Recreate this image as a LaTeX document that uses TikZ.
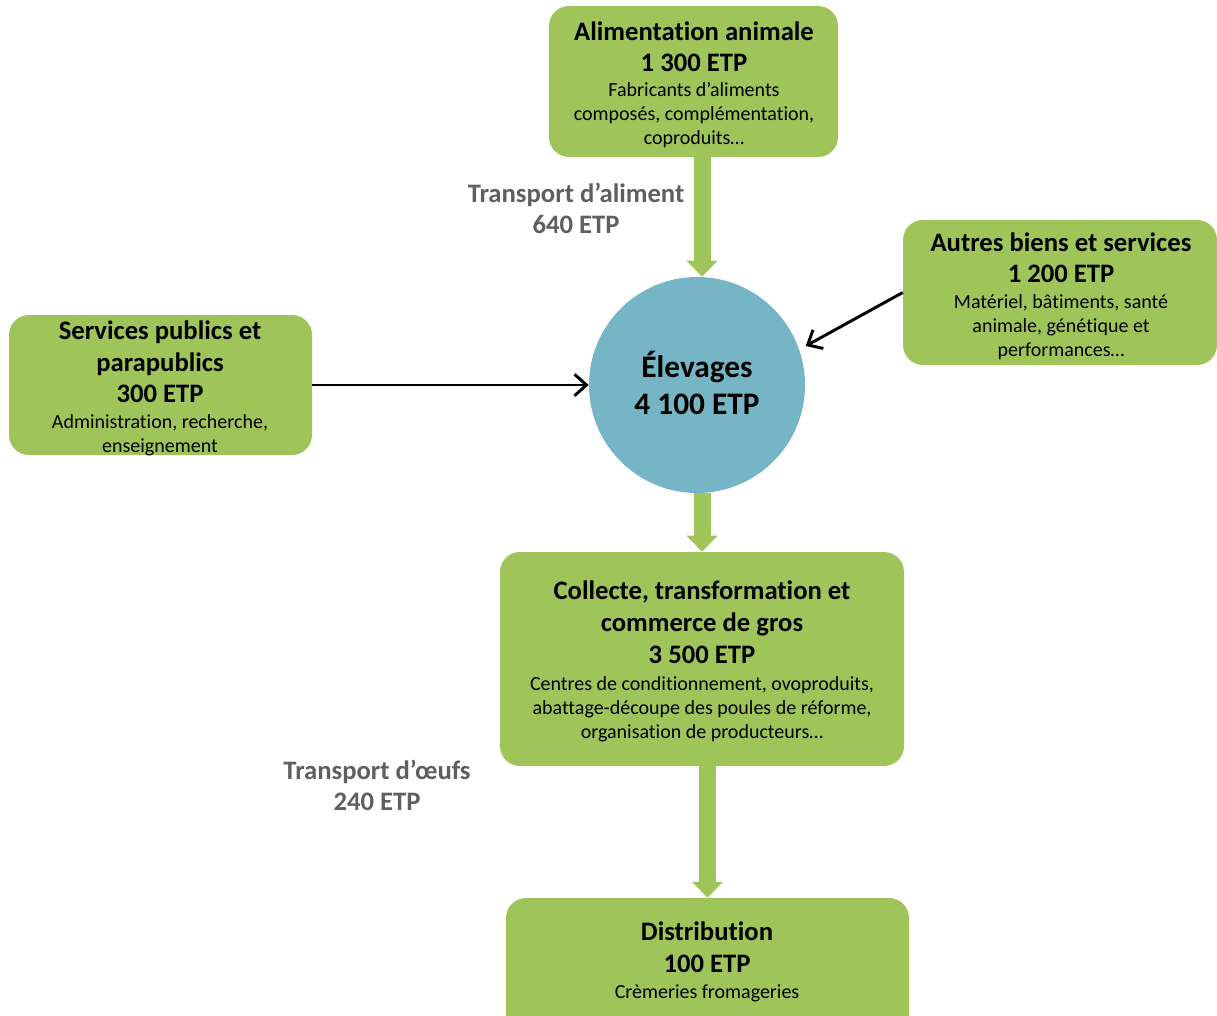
\documentclass[tikz,border=0pt]{standalone}
\usepackage{fontspec}
\setmainfont{Carlito}[Ligatures=NoCommon]
\usetikzlibrary{arrows.meta,calc}
\definecolor{boxgreen}{RGB}{158,196,90}
\definecolor{circblue}{RGB}{117,181,198}
\definecolor{labgray}{RGB}{95,95,95}
\newcommand\Bf{\fontsize{20}{23.25}\selectfont\bfseries}
\begin{document}
\begin{tikzpicture}[x=0.75pt,y=-0.75pt,
  box/.style={fill=boxgreen,draw=none,rounded corners=15pt,inner sep=0pt},
  txt/.style={align=center,inner sep=0pt,font=\fontsize{15}{18}\selectfont},
  lab/.style={align=center,inner sep=0pt,text=labgray,font=\fontsize{20}{23.25}\selectfont\bfseries},
  bigarrow/.style={draw=boxgreen,line width=12.75pt,-{Triangle[length=12pt,width=22.5pt]}},
  thinarrow/.style={draw=black,line width=2.2pt,-{Straight Barb[length=9pt,width=16pt,line width=2.2pt]}}]
\useasboundingbox (0,0) rectangle (1217,1015);
% boxes
\node[box,minimum width=0.75pt*289,minimum height=0.75pt*151] (alim) at (693.5,81.5) {};
\node[box,minimum width=0.75pt*314,minimum height=0.75pt*145] (autres) at (1060,292.5) {};
\node[box,minimum width=0.75pt*303,minimum height=0.75pt*140] (serv) at (160.5,385) {};
\node[circle,fill=circblue,minimum size=0.75pt*216,inner sep=0pt] (elev) at (697,385) {};
\node[box,minimum width=0.75pt*404,minimum height=0.75pt*214] (coll) at (702,659) {};
\node[box,minimum width=0.75pt*403,minimum height=0.75pt*142] (distr) at (707.5,969) {};
% texts
\node[txt] (alimT) at (694,85) {{\Bf Alimentation animale}\\[5.25pt]{\Bf 1 300 ETP}\\[0.75pt]Fabricants d’aliments\\composés, complémentation,\\coproduits…};
\node[txt] (autresT) at (1061,296) {{\Bf Autres biens et services}\\[5.25pt]{\Bf 1 200 ETP}\\[1.5pt]Matériel, bâtiments, santé\\animale, génétique et\\performances…};
\node[txt] (servT) at (160,388.5) {{\Bf Services publics et}\\[5.75pt]{\Bf parapublics}\\[5.75pt]{\Bf 300 ETP}\\[1.5pt]Administration, recherche,\\enseignement};
\node[align=center,inner sep=0pt,font=\fontsize{23.5}{27.75}\selectfont\bfseries] (elevT) at (697,383) {Élevages\\4 100 ETP};
\node[txt] (collT) at (702,661.5) {{\Bf Collecte, transformation et}\\[6pt]{\Bf commerce de gros}\\[6pt]{\Bf 3 500 ETP}\\[2.25pt]Centres de conditionnement, ovoproduits,\\abattage-découpe des poules de réforme,\\organisation de producteurs…};
\node[txt] (distrT) at (707,962) {{\Bf Distribution}\\[5.75pt]{\Bf 100 ETP}\\[1.5pt]Crèmeries fromageries};
% grey labels
\node[lab] (tal) at (576,208.5) {Transport d’aliment\\640 ETP};
\node[lab] (toe) at (377,785.5) {Transport d’œufs\\240 ETP};
% arrows
\draw[bigarrow] (coll.north |- alim.south) -- (coll.north |- elev.north);
\draw[bigarrow] (coll.north |- elev.south) -- (coll.north);
\draw[bigarrow] (distr.north |- coll.south) -- (distr.north);
\draw[thinarrow] (serv.east) -- (elev.west);
\draw[thinarrow] (autres.west) -- ($(elev.20)+(7,-2)$);
\end{tikzpicture}
\end{document}
